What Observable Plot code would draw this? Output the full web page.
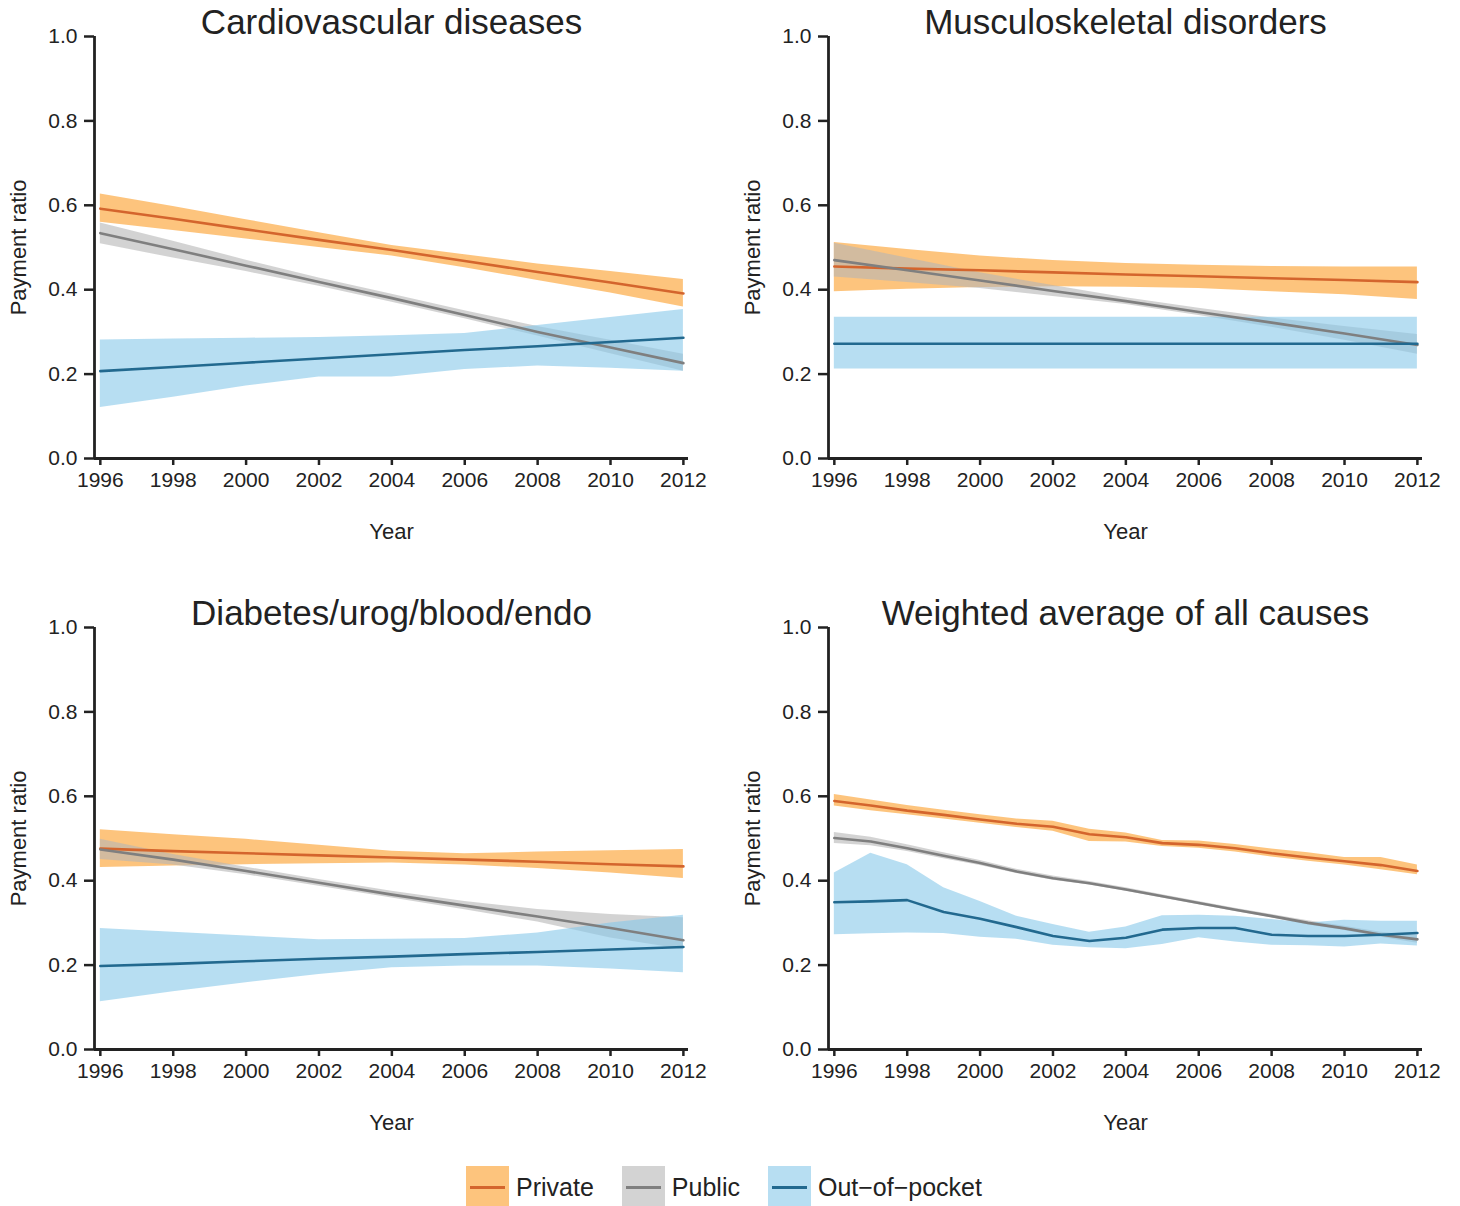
<!DOCTYPE html>
<html>
<head>
<meta charset="utf-8">
<script src="https://cdn.jsdelivr.net/npm/d3@7"></script>
<script src="https://cdn.jsdelivr.net/npm/@observablehq/plot@0.6"></script>
<style>
  html, body { margin: 0; padding: 0; background: #fff; }
  #wrap { position: relative; width: 1460px; height: 1206px; overflow: hidden; font-family: "Liberation Sans", Arial, sans-serif; color: #222; }
  .panel { position: absolute; }
  .panel svg { max-width: none !important; display: block; }
  #legend { position: absolute; top: 1166px; left: 0; width: 1448px; padding-right: 12px; display: flex; justify-content: center; }
  .item { display: flex; align-items: center; margin: 0 14px; }
  .sw { position: relative; width: 43px; height: 42px; }
  .sw .bg { position: absolute; inset: 0; opacity: 0.6; }
  .sw .ln { position: absolute; left: 4px; right: 4px; top: 20px; height: 3px; }
  .lab { font-size: 25px; margin-left: 7px; color: #222; line-height: 42px; }
</style>
</head>
<body>
<div id="wrap">
  <div id="legend"></div>
</div>
<script>
// ---------------- data ----------------
const years2 = [1996, 1998, 2000, 2002, 2004, 2006, 2008, 2010, 2012];
const years1 = [1996, 1997, 1998, 1999, 2000, 2001, 2002, 2003, 2004, 2005, 2006, 2007, 2008, 2009, 2010, 2011, 2012];
const xTicks = [1996, 1998, 2000, 2002, 2004, 2006, 2008, 2010, 2012];
const yTicks = [0, 0.2, 0.4, 0.6, 0.8, 1.0];
const panelTitles = ["Cardiovascular diseases", "Musculoskeletal disorders", "Diabetes/urog/blood/endo", "Weighted average of all causes"];
const seriesNames = ["Private", "Public", "Out\u2212of\u2212pocket"];

// Cardiovascular diseases
const cvPrivate   = [0.592, 0.568, 0.543, 0.518, 0.494, 0.468, 0.442, 0.417, 0.391];
const cvPrivateHi = [0.627, 0.597, 0.566, 0.535, 0.505, 0.483, 0.461, 0.443, 0.424];
const cvPrivateLo = [0.560, 0.540, 0.520, 0.500, 0.480, 0.452, 0.422, 0.392, 0.359];
const cvPublic    = [0.534, 0.496, 0.457, 0.418, 0.380, 0.340, 0.300, 0.263, 0.226];
const cvPublicHi  = [0.558, 0.515, 0.470, 0.428, 0.389, 0.350, 0.313, 0.280, 0.247];
const cvPublicLo  = [0.509, 0.475, 0.443, 0.408, 0.370, 0.331, 0.290, 0.248, 0.207];
const cvOop       = [0.207, 0.217, 0.227, 0.237, 0.247, 0.257, 0.266, 0.276, 0.286];
const cvOopHi     = [0.281, 0.283, 0.285, 0.287, 0.291, 0.296, 0.315, 0.334, 0.353];
const cvOopLo     = [0.121, 0.145, 0.172, 0.193, 0.193, 0.211, 0.219, 0.214, 0.207];

// Musculoskeletal disorders
const msPrivate   = [0.455, 0.450, 0.446, 0.441, 0.436, 0.432, 0.427, 0.423, 0.418];
const msPrivateHi = [0.512, 0.495, 0.480, 0.469, 0.462, 0.458, 0.455, 0.454, 0.454];
const msPrivateLo = [0.395, 0.401, 0.405, 0.407, 0.406, 0.403, 0.395, 0.388, 0.377];
const msPublic    = [0.470, 0.446, 0.422, 0.397, 0.373, 0.347, 0.322, 0.296, 0.269];
const msPublicHi  = [0.510, 0.475, 0.440, 0.410, 0.381, 0.356, 0.333, 0.313, 0.294];
const msPublicLo  = [0.430, 0.417, 0.403, 0.384, 0.365, 0.339, 0.311, 0.280, 0.247];
const msOop       = [0.272, 0.272, 0.272, 0.272, 0.272, 0.272, 0.272, 0.272, 0.272];
const msOopHi     = [0.335, 0.335, 0.335, 0.335, 0.335, 0.335, 0.335, 0.335, 0.335];
const msOopLo     = [0.212, 0.212, 0.212, 0.212, 0.212, 0.212, 0.212, 0.212, 0.212];

// Diabetes/urog/blood/endo
const dbPrivate   = [0.476, 0.470, 0.465, 0.460, 0.455, 0.450, 0.445, 0.439, 0.434];
const dbPrivateHi = [0.521, 0.509, 0.498, 0.484, 0.470, 0.464, 0.468, 0.471, 0.474];
const dbPrivateLo = [0.431, 0.435, 0.438, 0.440, 0.442, 0.437, 0.429, 0.418, 0.405];
const dbPublic    = [0.474, 0.450, 0.423, 0.395, 0.367, 0.341, 0.315, 0.288, 0.259];
const dbPublicHi  = [0.498, 0.462, 0.432, 0.403, 0.375, 0.351, 0.332, 0.320, 0.312];
const dbPublicLo  = [0.450, 0.437, 0.414, 0.387, 0.359, 0.331, 0.302, 0.264, 0.237];
const dbOop       = [0.198, 0.203, 0.209, 0.215, 0.220, 0.226, 0.231, 0.237, 0.243];
const dbOopHi     = [0.287, 0.278, 0.269, 0.260, 0.261, 0.263, 0.276, 0.300, 0.318];
const dbOopLo     = [0.113, 0.137, 0.158, 0.178, 0.194, 0.198, 0.198, 0.191, 0.182];

// Weighted average of all causes
const waPrivate   = [0.589, 0.578, 0.566, 0.556, 0.545, 0.535, 0.528, 0.510, 0.503, 0.489, 0.485, 0.477, 0.465, 0.455, 0.446, 0.437, 0.423];
const waPrivateHi = [0.604, 0.591, 0.578, 0.567, 0.556, 0.546, 0.541, 0.522, 0.513, 0.495, 0.494, 0.486, 0.475, 0.466, 0.455, 0.455, 0.437];
const waPrivateLo = [0.577, 0.566, 0.556, 0.546, 0.536, 0.526, 0.517, 0.493, 0.492, 0.481, 0.477, 0.468, 0.456, 0.446, 0.437, 0.426, 0.414];
const waPublic    = [0.501, 0.493, 0.477, 0.459, 0.442, 0.422, 0.406, 0.394, 0.379, 0.363, 0.347, 0.331, 0.316, 0.300, 0.287, 0.272, 0.261];
const waPublicHi  = [0.514, 0.503, 0.485, 0.466, 0.448, 0.427, 0.411, 0.398, 0.383, 0.367, 0.351, 0.335, 0.320, 0.305, 0.292, 0.278, 0.270];
const waPublicLo  = [0.488, 0.483, 0.469, 0.452, 0.436, 0.417, 0.401, 0.390, 0.375, 0.359, 0.343, 0.327, 0.312, 0.295, 0.282, 0.266, 0.252];
const waOop       = [0.349, 0.351, 0.354, 0.326, 0.310, 0.290, 0.269, 0.257, 0.265, 0.284, 0.288, 0.288, 0.272, 0.269, 0.269, 0.272, 0.276];
const waOopHi     = [0.418, 0.465, 0.438, 0.383, 0.351, 0.316, 0.296, 0.278, 0.290, 0.317, 0.318, 0.316, 0.308, 0.300, 0.306, 0.304, 0.304];
const waOopLo     = [0.272, 0.274, 0.276, 0.275, 0.266, 0.261, 0.247, 0.241, 0.239, 0.249, 0.265, 0.255, 0.247, 0.246, 0.243, 0.250, 0.245];

// ---------------- styling ----------------
const bandColors = ["#fc9d26", "#b6b6b6", "#87c8e9"];
const lineColors = ["#d4652d", "#7f7f7f", "#22698f"];
const bandOpacity = 0.6;
const FONT = "'Liberation Sans', Arial, sans-serif";

function rows(years, mid, lo, hi) {
  return years.map((year, i) => ({year, mid: mid[i], lo: lo[i], hi: hi[i]}));
}

const panels = [
  {title: panelTitles[0], series: [rows(years2, cvPrivate, cvPrivateLo, cvPrivateHi), rows(years2, cvPublic, cvPublicLo, cvPublicHi), rows(years2, cvOop, cvOopLo, cvOopHi)]},
  {title: panelTitles[1], series: [rows(years2, msPrivate, msPrivateLo, msPrivateHi), rows(years2, msPublic, msPublicLo, msPublicHi), rows(years2, msOop, msOopLo, msOopHi)]},
  {title: panelTitles[2], series: [rows(years2, dbPrivate, dbPrivateLo, dbPrivateHi), rows(years2, dbPublic, dbPublicLo, dbPublicHi), rows(years2, dbOop, dbOopLo, dbOopHi)]},
  {title: panelTitles[3], series: [rows(years1, waPrivate, waPrivateLo, waPrivateHi), rows(years1, waPublic, waPublicLo, waPublicHi), rows(years1, waOop, waOopLo, waOopHi)]}
];

const xDomain = [1995.84, 2012.14];
const yDomain = [0, 1];
const W = 726, H = 591;
const positions = [[0, 0], [734, 0], [0, 591], [734, 591]];

const wrap = document.getElementById("wrap");
panels.forEach((p, k) => {
  const marks = [];
  p.series.forEach((d, s) => {
    marks.push(Plot.areaY(d, {x: "year", y1: "lo", y2: "hi", fill: bandColors[s], fillOpacity: bandOpacity, curve: "linear"}));
  });
  p.series.forEach((d, s) => {
    marks.push(Plot.lineY(d, {x: "year", y: "mid", stroke: lineColors[s], strokeWidth: 2.6}));
  });
  marks.push(
    Plot.axisX(xTicks, {tickSize: 7, tickPadding: 7, fontSize: 21, strokeWidth: 2.5, tickFormat: d => String(d), label: null}),
    Plot.axisY(yTicks, {tickSize: 10, tickPadding: 7, fontSize: 21, strokeWidth: 2.5, tickFormat: d3.format(".1f"), label: null}),
    Plot.ruleX([xDomain[0]], {stroke: "#222", strokeWidth: 2.8}),
    Plot.ruleY([yDomain[0]], {stroke: "#222", strokeWidth: 2.8}),
    Plot.text([p.title], {frameAnchor: "top", dy: -14, lineAnchor: "middle", textAnchor: "middle", fontSize: 35, fill: "#222"}),
    Plot.text(["Year"], {frameAnchor: "bottom", dy: 73, lineAnchor: "middle", textAnchor: "middle", fontSize: 22, fill: "#222"}),
    Plot.text(["Payment ratio"], {frameAnchor: "left", dx: -76, rotate: -90, lineAnchor: "middle", textAnchor: "middle", fontSize: 22, fill: "#222"})
  );
  const chart = Plot.plot({
    width: W, height: H,
    marginLeft: 94, marginRight: W - 688, marginTop: 36, marginBottom: H - 458,
    x: {domain: xDomain, axis: null},
    y: {domain: yDomain, axis: null},
    style: {fontFamily: FONT, color: "#222", background: "transparent", overflow: "visible"},
    marks
  });
  const div = document.createElement("div");
  div.className = "panel";
  div.style.left = positions[k][0] + "px";
  div.style.top = positions[k][1] + "px";
  div.style.width = W + "px";
  div.style.height = H + "px";
  div.appendChild(chart);
  wrap.appendChild(div);
});

// legend
const legend = document.getElementById("legend");
seriesNames.forEach((name, s) => {
  const item = document.createElement("div");
  item.className = "item";
  item.innerHTML = `<div class="sw"><div class="bg" style="background:${bandColors[s]}"></div><div class="ln" style="background:${lineColors[s]}"></div></div><span class="lab">${name}</span>`;
  legend.appendChild(item);
});
</script>
</body>
</html>
